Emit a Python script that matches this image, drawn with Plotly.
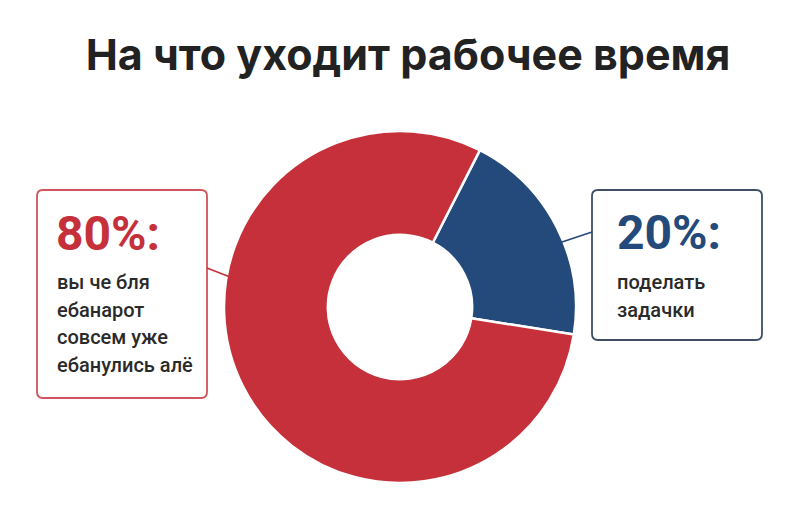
import plotly.graph_objects as go

# === DATA ===
labels = ["поделать задачки", "вы че бля ебанарот совсем уже ебанулись алё"]
values = [20, 80]
colors = ["#244a7c", "#c5303a"]
pct_labels = ["20%:", "80%:"]
left_lines = ["вы че бля", "ебанарот", "совсем уже", "ебанулись алё"]
right_lines = ["поделать", "задачки"]
title_text = "На что уходит рабочее время"

W, H = 800, 518


def px(x):
    return x / W


def py(y):
    return 1 - y / H


def round_box(x0, y0, x1, y1, r=6):
    # rounded rectangle path in paper coords
    rx, ry = r / W, r / H
    a, b, c, d = px(x0), py(y0), px(x1), py(y1)
    return (f"M {a+rx},{b} L {c-rx},{b} Q {c},{b} {c},{b-ry} "
            f"L {c},{d+ry} Q {c},{d} {c-rx},{d} L {a+rx},{d} "
            f"Q {a},{d} {a},{d+ry} L {a},{b-ry} Q {a},{b} {a+rx},{b} Z")


fig = go.Figure()

fig.add_trace(go.Pie(
    labels=labels,
    values=values,
    hole=0.41,
    sort=False,
    direction="clockwise",
    rotation=27,
    marker=dict(colors=colors, line=dict(color="white", width=2.5)),
    textinfo="none",
    hoverinfo="label+percent",
    showlegend=False,
    domain=dict(x=[px(224), px(576)], y=[py(485), py(129)]),
))

shapes = [
    dict(type="path", xref="paper", yref="paper", path=round_box(37, 190, 207, 398),
         line=dict(color="#d0545c", width=1.8)),
    dict(type="path", xref="paper", yref="paper", path=round_box(592, 190, 762, 340),
         line=dict(color="#3e4f66", width=1.8)),
    dict(type="line", xref="paper", yref="paper", x0=px(207), y0=py(268), x1=px(230), y1=py(277),
         line=dict(color="#c5303a", width=1.6)),
    dict(type="line", xref="paper", yref="paper", x0=px(562), y0=py(242), x1=px(592), y1=py(232),
         line=dict(color="#244a7c", width=1.6)),
]

annotations = [
    dict(text=pct_labels[1], x=px(54), y=py(233), xref="paper", yref="paper",
         xanchor="left", yanchor="middle", showarrow=False,
         font=dict(family="Roboto", size=48, color=colors[1], weight="bold")),
    dict(text=pct_labels[0], x=px(615), y=py(232), xref="paper", yref="paper",
         xanchor="left", yanchor="middle", showarrow=False,
         font=dict(family="Roboto", size=48, color=colors[0], weight="bold")),
]

# body text, one annotation per line to keep the spacing of the original
for i, line in enumerate(left_lines):
    annotations.append(dict(
        text=line, x=px(55), y=py(282 + 27.7 * i), xref="paper", yref="paper",
        xanchor="left", yanchor="middle", showarrow=False,
        font=dict(family="Roboto", size=20, color="#2a2a2a", weight=500)))
for i, line in enumerate(right_lines):
    annotations.append(dict(
        text=line, x=px(615), y=py(282 + 27.7 * i), xref="paper", yref="paper",
        xanchor="left", yanchor="middle", showarrow=False,
        font=dict(family="Roboto", size=20, color="#2a2a2a", weight=500)))

fig.update_layout(
    width=W, height=H,
    margin=dict(l=0, r=0, t=0, b=0),
    paper_bgcolor="white",
    plot_bgcolor="white",
    title=dict(text=title_text, x=px(408), xanchor="center", y=py(55), yanchor="middle",
               font=dict(family="Inter", size=43, color="#222222", weight="bold")),
    shapes=shapes,
    annotations=annotations,
)

# drop the default 8px body margin so the figure sits at the page corner
fig.write_html("out.html", config={"displayModeBar": False},
               post_script="document.body.style.margin='0';")
